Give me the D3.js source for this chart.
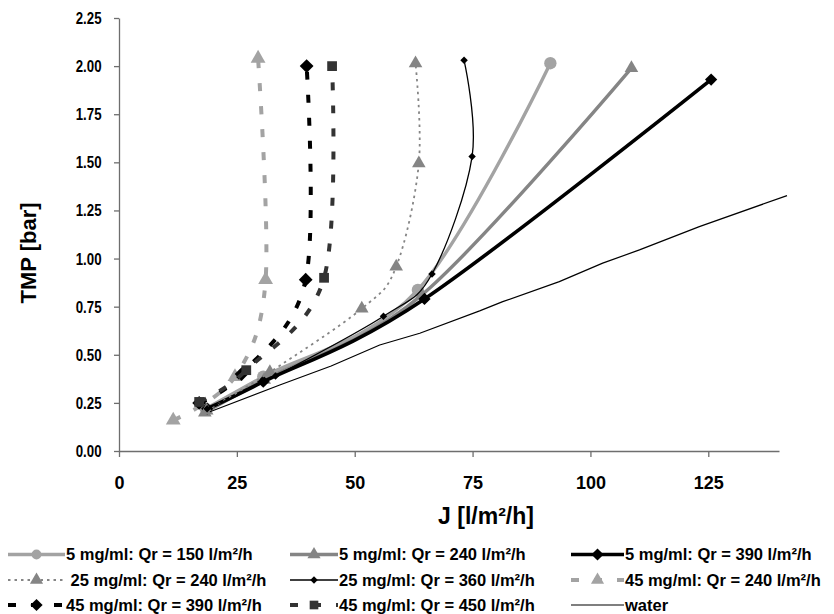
<!DOCTYPE html>
<html>
<head>
<meta charset="utf-8">
<script src="https://cdn.jsdelivr.net/npm/d3@7"></script>
<style>
  html, body { margin: 0; padding: 0; background: #fff; }
  svg { display: block; font-family: "Liberation Sans", Arial, sans-serif; font-weight: bold; }
</style>
</head>
<body>
<svg id="chart" width="834" height="614"></svg>
<script>
// Permeate flux J [l/m²/h] against transmembrane pressure TMP [bar]
const j_5_150   = [18.4, 30.6, 63.4, 91.5];
const tmp_5_150 = [0.22, 0.386, 0.837, 2.015];

const j_5_240   = [18.2, 30.8, 64.2, 108.7];
const tmp_5_240 = [0.20, 0.37, 0.81, 1.99];

const j_5_390   = [18.7, 30.6, 64.8, 125.6];
const tmp_5_390 = [0.22, 0.36, 0.79, 1.93];

const j_25_240   = [18.6, 32.0, 51.5, 58.8, 63.6, 62.9];
const tmp_25_240 = [0.21, 0.41, 0.74, 0.958, 1.495, 2.015];

const j_25_360   = [18.7, 33.2, 56.1, 66.4, 74.9, 73.2];
const tmp_25_360 = [0.22, 0.39, 0.70, 0.92, 1.53, 2.03];

const j_45_240   = [11.5, 24.6, 31.1, 29.5];
const tmp_45_240 = [0.16, 0.386, 0.89, 2.04];

const j_45_390   = [17.0, 26.0, 39.6, 39.8];
const tmp_45_390 = [0.25, 0.40, 0.89, 2.00];

const j_45_450   = [17.0, 27.0, 43.5, 45.2];
const tmp_45_450 = [0.255, 0.42, 0.90, 2.00];

const j_water   = [19.3, 34.1, 45.0, 55.3, 63.8, 76.5, 81.4, 93.4, 102.6, 110.4, 123.1, 141.7];
const tmp_water = [0.204, 0.343, 0.442, 0.551, 0.612, 0.728, 0.776, 0.88, 0.976, 1.045, 1.166, 1.327];

const seriesLabels = [
  "5 mg/ml: Qr = 150 l/m²/h", "5 mg/ml: Qr = 240 l/m²/h", "5 mg/ml: Qr = 390 l/m²/h",
  " 25 mg/ml: Qr = 240 l/m²/h", "25 mg/ml: Qr = 360 l/m²/h", "45 mg/ml: Qr = 240 l/m²/h",
  "45 mg/ml: Qr = 390 l/m²/h", "45 mg/ml: Qr = 450 l/m²/h", "water"
];

const xTicks = [0, 25, 50, 75, 100, 125];
const yTicks = [0, 0.25, 0.5, 0.75, 1.0, 1.25, 1.5, 1.75, 2.0, 2.25];

const xTitle = "J [l/m²/h]";
const yTitle = "TMP [bar]";

// Excel-style diamond: a square turned 45°
const diamond = {
  draw(ctx, size) {
    const h = Math.sqrt(size * 2) / 2;
    ctx.moveTo(0, -h); ctx.lineTo(h, 0); ctx.lineTo(0, h); ctx.lineTo(-h, 0); ctx.closePath();
  }
};

// styles for each series (drawing order = legend order)
const styles = [
  { color: "#a3a3a3", width: 3.4, dash: null,    symbol: d3.symbolCircle,   size: 120 },
  { color: "#858585", width: 3.4, dash: null,    symbol: d3.symbolTriangle, size: 80 },
  { color: "#000000", width: 3.6, dash: null,    symbol: diamond,           size: 75 },
  { color: "#858585", width: 1.8, dash: "2.5,4", symbol: d3.symbolTriangle, size: 80 },
  { color: "#000000", width: 1.3, dash: null,    symbol: diamond,           size: 28 },
  { color: "#a3a3a3", width: 4,   dash: "8,15",  symbol: d3.symbolTriangle, size: 95 },
  { color: "#000000", width: 4,   dash: "8,15",  symbol: diamond,           size: 95 },
  { color: "#333333", width: 4,   dash: "8,15",  symbol: d3.symbolSquare,   size: 95 },
  { color: "#000000", width: 1.2, dash: null,    symbol: null,              size: 0 }
];

const seriesJ   = [j_5_150, j_5_240, j_5_390, j_25_240, j_25_360, j_45_240, j_45_390, j_45_450, j_water];
const seriesTMP = [tmp_5_150, tmp_5_240, tmp_5_390, tmp_25_240, tmp_25_360, tmp_45_240, tmp_45_390, tmp_45_450, tmp_water];

const series = seriesJ.map((js, i) => ({
  label: seriesLabels[i],
  style: styles[i],
  points: js.map((j, k) => ({ j, tmp: seriesTMP[i][k] })),
  smooth: i !== 8
}));

// ---- layout ----
const svg = d3.select("#chart");
const x = d3.scaleLinear().domain([0, 140]).range([119, 779]);
const y = d3.scaleLinear().domain([0, 2.25]).range([451, 18]);

const axisColor = "#6e6e6e";
const fontFam = "Liberation Sans, Arial, sans-serif";

// Y axis (labels slightly condensed, right edge 17px left of the axis)
const gy = svg.append("g").attr("transform", "translate(119,0)")
  .call(d3.axisLeft(y).tickValues(yTicks).tickSize(5).tickSizeOuter(0)
        .tickFormat(d3.format(".2f")));
gy.select(".domain").attr("stroke", axisColor).attr("stroke-width", 1.3);
gy.selectAll(".tick line").attr("stroke", axisColor).attr("stroke-width", 1.3);
gy.selectAll(".tick text").attr("fill", "#000").attr("font-size", 17)
  .attr("font-family", fontFam).style("font-weight", "bold")
  .attr("text-anchor", "end").attr("x", 0)
  .attr("transform", "translate(-17.5,0) scale(0.78,1)");

// X axis
const gx = svg.append("g").attr("transform", "translate(0,451)")
  .call(d3.axisBottom(x).tickValues(xTicks).tickSize(6).tickSizeOuter(0).tickPadding(19)
        .tickFormat(d3.format("d")));
gx.select(".domain").attr("stroke", axisColor).attr("stroke-width", 1.3);
gx.selectAll(".tick line").attr("stroke", axisColor).attr("stroke-width", 1.3);
gx.selectAll(".tick text").attr("fill", "#000").attr("font-size", 18)
  .attr("font-family", fontFam).style("font-weight", "bold");

// Axis titles
svg.append("text").attr("x", 486).attr("y", 524).attr("text-anchor", "middle")
  .attr("font-size", 23).text(xTitle);
svg.append("text").attr("transform", "translate(36,253) rotate(-90)")
  .attr("text-anchor", "middle").attr("font-size", 22).text(yTitle);

// ---- series ----
const smoothLine = d3.line().x(d => x(d.j)).y(d => y(d.tmp)).curve(d3.curveCardinal.tension(0));
const straightLine = d3.line().x(d => x(d.j)).y(d => y(d.tmp));

const plot = svg.append("g");
series.forEach(s => {
  const g = plot.append("g");
  g.append("path")
    .attr("d", (s.smooth ? smoothLine : straightLine)(s.points))
    .attr("fill", "none")
    .attr("stroke", s.style.color)
    .attr("stroke-width", s.style.width)
    .attr("stroke-dasharray", s.style.dash)
    .attr("stroke-linejoin", "round");
  if (s.style.symbol) {
    g.selectAll("path.mk").data(s.points).join("path")
      .attr("class", "mk")
      .attr("transform", d => `translate(${x(d.j)},${y(d.tmp)})`)
      .attr("d", d3.symbol(s.style.symbol, s.style.size))
      .attr("fill", s.style.color);
  }
});

// ---- legend ----
const legCols = [{ x0: 8, x1: 65 }, { x0: 290, x1: 338 }, { x0: 571, x1: 624 }];
const legRows = [554.5, 580, 605];
const legend = svg.append("g");
series.forEach((s, i) => {
  const c = legCols[i % 3], ry = legRows[Math.floor(i / 3)];
  const g = legend.append("g");
  g.append("line").attr("x1", c.x0).attr("x2", c.x1).attr("y1", ry).attr("y2", ry)
    .attr("stroke", s.style.color)
    .attr("stroke-width", s.style.width)
    .attr("stroke-dasharray", s.style.dash);
  if (s.style.symbol) {
    g.append("path")
      .attr("transform", `translate(${(c.x0 + c.x1) / 2},${ry})`)
      .attr("d", d3.symbol(s.style.symbol, Math.min(s.style.size, 75)))
      .attr("fill", s.style.color);
  }
  g.append("text").attr("x", c.x1 + 1).attr("y", ry + 5.5)
    .attr("font-size", 16.5)
    .style("white-space", "pre")
    .text(s.label);
});
</script>
</body>
</html>
